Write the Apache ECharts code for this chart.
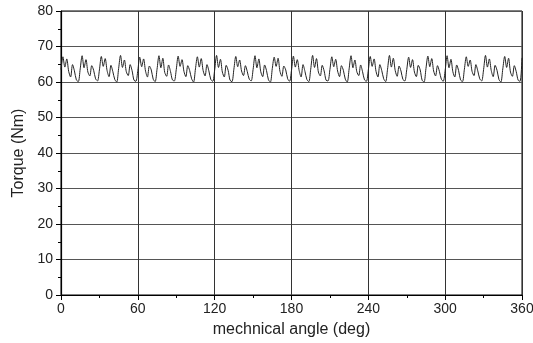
<!DOCTYPE html>
<html>
<head>
<meta charset="utf-8">
<script src="https://cdn.jsdelivr.net/npm/echarts@6/dist/echarts.min.js"></script>
<style>
  html, body { margin: 0; padding: 0; background: #fff; }
  #chart { width: 533px; height: 343px; }
</style>
</head>
<body>
<div id="chart"></div>
<script>
// sample spacing along the angle axis (deg)
const angleStep = 1.5;
const xTicks = [0, 60, 120, 180, 240, 300, 360];
const yTicks = [0, 10, 20, 30, 40, 50, 60, 70, 80];

// torque, one row per 15 deg ripple period
const torque = [
  63.5, 67.1, 64.2, 66.5, 63.0, 61.4, 64.9, 63.1, 60.6, 60.1,
  63.7, 67.4, 64.0, 66.3, 62.8, 61.7, 64.6, 63.3, 60.9, 60.3,
  63.4, 67.2, 64.4, 66.6, 63.2, 61.5, 64.7, 62.9, 60.7, 60.0,
  63.8, 67.5, 64.1, 66.2, 62.9, 61.8, 64.9, 63.2, 60.5, 60.2,
  63.3, 67.0, 64.3, 66.5, 63.1, 61.4, 64.5, 63.4, 60.8, 60.1,
  63.6, 67.4, 64.0, 66.7, 62.7, 61.6, 64.8, 63.0, 60.6, 60.3,
  63.5, 67.3, 64.4, 66.3, 63.0, 61.5, 64.6, 63.2, 60.9, 60.0,
  63.7, 67.1, 64.2, 66.6, 63.2, 61.7, 64.9, 63.1, 60.7, 60.2,
  63.4, 67.5, 64.1, 66.4, 62.8, 61.4, 64.7, 63.3, 60.5, 60.1,
  63.6, 67.2, 64.3, 66.2, 63.1, 61.8, 64.6, 62.9, 60.8, 60.3,
  63.5, 67.4, 64.0, 66.5, 62.9, 61.5, 64.8, 63.2, 60.6, 60.0,
  63.8, 67.0, 64.4, 66.7, 63.0, 61.6, 64.5, 63.4, 60.9, 60.2,
  63.3, 67.3, 64.2, 66.3, 63.2, 61.4, 64.9, 63.0, 60.7, 60.1,
  63.6, 67.5, 64.1, 66.6, 62.8, 61.7, 64.7, 63.1, 60.5, 60.3,
  63.5, 67.1, 64.3, 66.4, 63.1, 61.5, 64.6, 63.3, 60.8, 60.0,
  63.7, 67.4, 64.0, 66.2, 62.9, 61.8, 64.8, 62.9, 60.6, 60.2,
  63.4, 67.2, 64.4, 66.5, 63.0, 61.4, 64.9, 63.2, 60.9, 60.1,
  63.6, 67.5, 64.2, 66.7, 63.2, 61.6, 64.5, 63.1, 60.7, 60.3,
  63.5, 67.0, 64.1, 66.3, 62.8, 61.5, 64.7, 63.4, 60.5, 60.0,
  63.8, 67.3, 64.3, 66.6, 63.1, 61.7, 64.6, 63.0, 60.8, 60.2,
  63.3, 67.4, 64.0, 66.4, 62.9, 61.4, 64.8, 63.2, 60.6, 60.1,
  63.6, 67.1, 64.4, 66.2, 63.0, 61.8, 64.9, 63.1, 60.9, 60.3,
  63.5, 67.5, 64.2, 66.5, 63.2, 61.5, 64.7, 63.3, 60.7, 60.0,
  63.7, 67.2, 64.1, 66.7, 62.8, 61.6, 64.6, 62.9, 60.5, 60.2,
  66.8
];

const chart = echarts.init(document.getElementById("chart"));

const points = torque.map((v, i) => [i * angleStep, v]);

const labelStyle = {
  color: "#222",
  fontSize: 14,
  fontFamily: "Liberation Sans, Arial, sans-serif",
};

chart.setOption({
  animation: false,
  grid: {
    left: 61,
    right: 11,
    top: 11,
    bottom: 48,
    outerBoundsMode: "none",
    show: true,
    borderColor: "#000",
    borderWidth: 1,
  },
  xAxis: {
    type: "value",
    min: xTicks[0],
    max: xTicks[xTicks.length - 1],
    interval: 60,
    name: "mechnical angle (deg)",
    nameLocation: "middle",
    nameGap: 27,
    nameTextStyle: { ...labelStyle, fontSize: 16 },
    axisLine: { lineStyle: { color: "#000", width: 1.2 } },
    axisTick: { inside: false, length: 5, lineStyle: { color: "#000" } },
    minorTick: { show: true, splitNumber: 2, length: 3, lineStyle: { color: "#000" } },
    axisLabel: { ...labelStyle, margin: 7 },
    splitLine: { show: true, lineStyle: { color: "#333", width: 1 } },
  },
  yAxis: {
    type: "value",
    min: yTicks[0],
    max: yTicks[yTicks.length - 1],
    interval: 10,
    name: "Torque (Nm)",
    nameLocation: "middle",
    nameGap: 33,
    nameTextStyle: { ...labelStyle, fontSize: 16 },
    axisLine: { show: true, lineStyle: { color: "#000", width: 1.2 } },
    axisTick: { show: true, inside: false, length: 5, lineStyle: { color: "#000" } },
    minorTick: { show: true, splitNumber: 2, length: 3, lineStyle: { color: "#000" } },
    axisLabel: { ...labelStyle, margin: 8 },
    splitLine: { show: true, lineStyle: { color: "#555", width: 1 } },
  },
  series: [
    {
      type: "line",
      data: points,
      showSymbol: false,
      smooth: 0.3,
      lineStyle: { color: "#222", width: 1 },
    },
  ],
});
</script>
</body>
</html>
